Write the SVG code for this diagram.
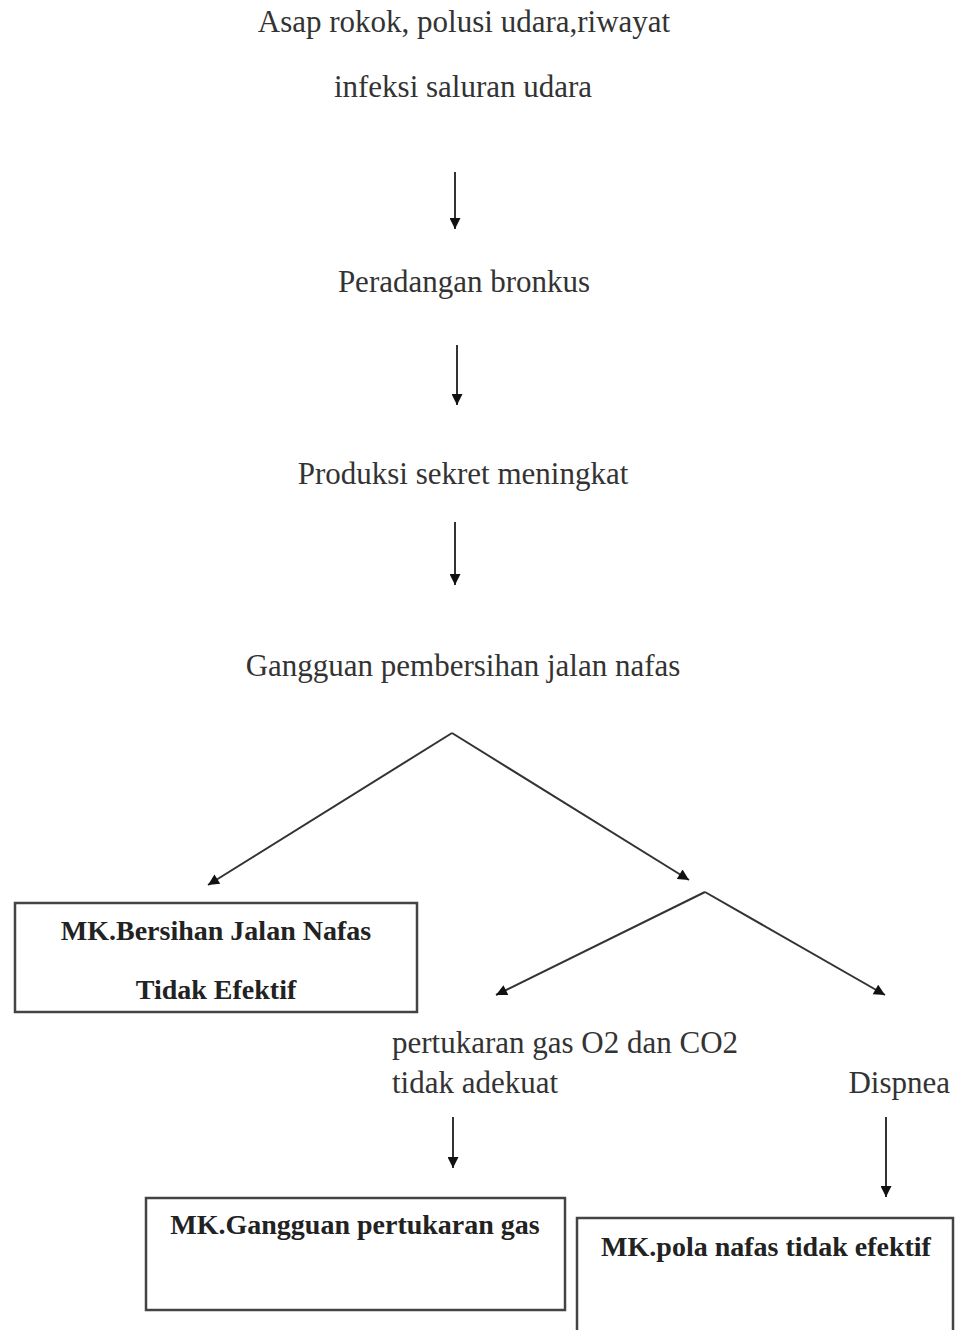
<svg xmlns="http://www.w3.org/2000/svg" width="959" height="1330" viewBox="0 0 959 1330">
<style>
.t{font-family:"Liberation Serif","Times New Roman",serif;font-size:31px;fill:#333;}
.b{font-family:"Liberation Serif","Times New Roman",serif;font-size:28px;font-weight:bold;fill:#222;}
.box{fill:#fff;stroke:#444;stroke-width:2.5;}
.c{stroke:#333;stroke-width:2;fill:none;marker-end:url(#ah);}
</style>
<defs>
<marker id="ah" viewBox="0 0 10 10" refX="10" refY="5" markerWidth="13" markerHeight="11" markerUnits="userSpaceOnUse" orient="auto">
<path d="M0,0 L10,5 L0,10 z" fill="#111"/>
</marker>
</defs>
<rect width="959" height="1330" fill="#fff"/>
<g id="n1"><text class="t" x="464" y="32" text-anchor="middle">Asap rokok, polusi udara,riwayat</text>
<text class="t" x="463" y="97" text-anchor="middle">infeksi saluran udara</text></g>
<g id="n2"><text class="t" x="464" y="292" text-anchor="middle">Peradangan bronkus</text></g>
<g id="n3"><text class="t" x="463" y="484" text-anchor="middle">Produksi sekret meningkat</text></g>
<g id="n4"><text class="t" x="463" y="676" text-anchor="middle">Gangguan pembersihan jalan nafas</text></g>
<g id="n5"><rect class="box" x="15" y="903" width="402" height="109"/>
<text class="b" x="216" y="940" text-anchor="middle">MK.Bersihan Jalan Nafas</text>
<text class="b" x="216" y="999" text-anchor="middle">Tidak Efektif</text></g>
<g id="n6"><text class="t" x="392" y="1053">pertukaran gas O2 dan CO2</text>
<text class="t" x="392" y="1093">tidak adekuat</text></g>
<g id="n7"><text class="t" x="950" y="1093" text-anchor="end">Dispnea</text></g>
<g id="n8"><rect class="box" x="146" y="1198" width="419" height="112"/>
<text class="b" x="355" y="1234" text-anchor="middle">MK.Gangguan pertukaran gas</text></g>
<g id="n9"><rect class="box" x="577" y="1218" width="376" height="116"/>
<text class="b" x="766" y="1256" text-anchor="middle">MK.pola nafas tidak efektif</text></g>
<g id="connectors">
<line class="c" x1="455" y1="172" x2="455" y2="229"/>
<line class="c" x1="457" y1="345" x2="457" y2="405"/>
<line class="c" x1="455" y1="522" x2="455" y2="585"/>
<polyline class="c" points="452,733 208,885"/>
<polyline class="c" points="452,733 689,880"/>
<polyline class="c" points="705,892 496,995"/>
<polyline class="c" points="705,892 885,995"/>
<line class="c" x1="453" y1="1117" x2="453" y2="1168"/>
<line class="c" x1="886" y1="1117" x2="886" y2="1197"/>
</g>
</svg>
